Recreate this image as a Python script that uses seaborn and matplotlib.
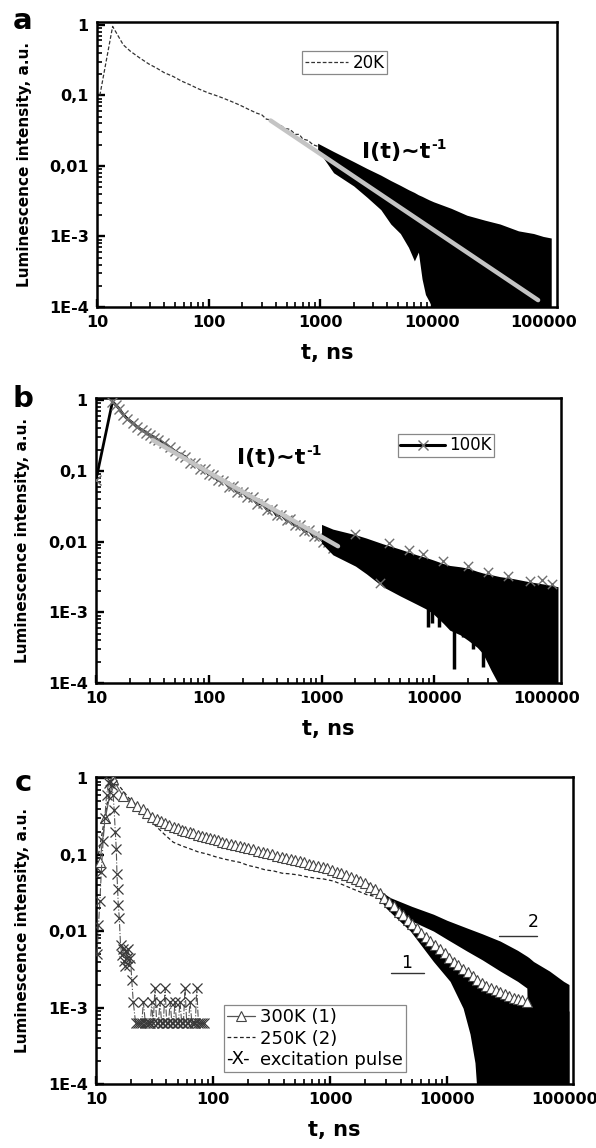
import numpy as np
import matplotlib
matplotlib.use("Agg")
import matplotlib.pyplot as plt
import matplotlib.ticker as mticker
from matplotlib.lines import Line2D
from matplotlib.text import Text
from matplotlib.legend_handler import HandlerBase
import seaborn as sns

# ------------------------------------------------------------------ data
x_ticks = [10, 100, 1000, 10000, 100000]
x_tick_labels = ["10", "100", "1000", "10000", "100000"]
y_ticks = [1e-4, 1e-3, 1e-2, 1e-1, 1]
y_tick_labels = ["1E-4", "1E-3", "0,01", "0,1", "1"]

# panel a : 20K
a_t = [10.6, 13.8, 17.2, 20.0, 24.3, 29.0, 34.3, 40.0, 48.3, 57.0, 68.4, 80.0, 100, 118, 136,
       160, 190, 230, 270, 300, 330, 360, 400, 440, 480, 536, 600, 650, 700, 780, 860, 950]
a_I = [0.10, 0.95, 0.52, 0.42, 0.337, 0.28, 0.243, 0.21, 0.185, 0.16, 0.141, 0.125, 0.108, 0.099, 0.091,
       0.082, 0.073, 0.063, 0.056, 0.053, 0.046, 0.045, 0.039, 0.038, 0.034, 0.033, 0.028, 0.028, 0.024,
       0.023, 0.020, 0.019]
a_band_t = [950, 1320, 2000, 2630, 3500, 4300, 5240, 6200, 7000, 7600, 8200, 8800, 9500, 10400,
            15000, 20700, 30000, 41000, 60000, 82000, 100000, 118000]
a_band_hi = [0.021, 0.016, 0.0115, 0.0092, 0.0074, 0.0062, 0.0053, 0.0046, 0.0042, 0.0039, 0.0037,
             0.0035, 0.0033, 0.0031, 0.0025, 0.0020, 0.0017, 0.0015, 0.0012, 0.0011, 0.0010, 0.00095]
a_band_lo = [0.017, 0.0080, 0.0052, 0.0036, 0.0024, 0.0015, 0.0011, 0.0007, 0.00045, 0.0006, 0.00025,
             0.00015, 0.00012, 0.00009, 0.00009, 0.00009, 0.00009, 0.00009, 0.00009, 0.00009, 0.00009, 0.00009]
a_fit_t = [360, 90000]
a_fit_I = [0.044, 1.25e-4]

# panel b : 100K
b_t = [10.0, 14.0, 15.0, 16.0, 17.5, 19.0, 21.4, 23.0, 25.4, 28.0, 30.0, 33.0, 35.7, 40, 45, 50, 56,
       62, 68, 75, 83, 92, 100, 110, 120, 135, 150, 165, 177, 200, 220, 245, 270, 300, 330, 365, 400,
       440, 490, 526, 580, 640, 700, 770, 850, 940, 1040, 1150, 1270, 1400]
b_I = [0.075, 0.95, 0.85, 0.76, 0.62, 0.54, 0.47, 0.42, 0.38, 0.345, 0.32, 0.295, 0.27, 0.245, 0.215,
       0.19, 0.17, 0.158, 0.131, 0.128, 0.107, 0.105, 0.089, 0.088, 0.074, 0.073, 0.060, 0.061, 0.051,
       0.050, 0.042, 0.042, 0.034, 0.035, 0.028, 0.029, 0.0235, 0.024, 0.020, 0.0207, 0.017, 0.0172,
       0.0142, 0.0145, 0.0118, 0.012, 0.0098, 0.0100, 0.0082, 0.0084]
b_band_t = [1000, 1260, 2000, 2500, 3500, 5000, 7000, 8600, 9800, 12000, 13700, 17000, 20000, 24000,
            27000, 32000, 38000, 50000, 70000, 95000, 125000]
b_band_hi = [0.0175, 0.0150, 0.0125, 0.0112, 0.0093, 0.0078, 0.0065, 0.0059, 0.0055, 0.0049, 0.0046,
             0.0044, 0.0042, 0.0038, 0.0036, 0.0034, 0.0032, 0.0030, 0.0027, 0.0025, 0.0023]
b_band_lo = [0.0095, 0.0065, 0.0045, 0.0035, 0.0023, 0.0017, 0.0013, 0.0011, 0.00095, 0.0007, 0.00056,
             0.00048, 0.00040, 0.00032, 0.00026, 0.00015, 0.00009, 0.00009, 0.00009, 0.00009, 0.00009]
b_spike_t = [8800, 9600, 11000, 15000, 18000, 22000, 27000]
b_spike_lo = [0.00062, 0.00070, 0.00062, 0.00016, 0.00045, 0.00030, 0.00017]
b_spike_hi = [0.0012, 0.0011, 0.0009, 0.0006, 0.0006, 0.0004, 0.0003]
b_out_t = [3300, 2000, 4000, 6000, 8000, 12000, 20000, 30000, 45000, 70000, 90000, 110000]
b_out_I = [0.0026, 0.013, 0.0095, 0.0075, 0.0066, 0.0053, 0.0045, 0.0037, 0.0033, 0.0028, 0.0029, 0.0025]
b_fit_t = [32, 1400]
b_fit_I = [0.27, 0.0086]

# panel c : 300K (1), 250K (2), excitation pulse
c_tri_t = [10.8, 12.0, 14, 17, 20, 22.5, 25, 27.5, 30, 33, 36, 39, 42, 46, 50, 54, 58, 63, 68, 74, 80,
           87, 94, 102, 110, 120, 130, 142, 155, 170, 185, 200, 220, 240, 265, 290, 320, 350, 385, 420,
           460, 500, 550, 600, 660, 720, 790, 870, 950, 1040, 1140, 1250, 1370, 1500, 1650, 1800, 2000,
           2200, 2400, 2650, 2900, 3200, 3500, 3850, 4200, 4600, 5000, 5500, 6000, 6600, 7200, 7900,
           8700, 9500, 10400, 11400, 12500, 13700, 15000, 16500, 18000, 19800, 21700, 23800, 26000,
           28500, 31000, 34000, 37000, 40500, 44000, 48000]
c_tri_I = [0.08, 0.30, 0.96, 0.58, 0.49, 0.43, 0.39, 0.35, 0.31, 0.295, 0.275, 0.26, 0.245, 0.232,
           0.222, 0.212, 0.204, 0.196, 0.189, 0.182, 0.176, 0.171, 0.166, 0.158, 0.153, 0.148, 0.143,
           0.138, 0.134, 0.129, 0.125, 0.121, 0.117, 0.113, 0.109, 0.105, 0.101, 0.097, 0.094, 0.091,
           0.088, 0.085, 0.082, 0.079, 0.076, 0.073, 0.071, 0.068, 0.066, 0.063, 0.060, 0.057, 0.054,
           0.051, 0.048, 0.045, 0.042, 0.038, 0.035, 0.031, 0.027, 0.024, 0.021, 0.018, 0.016, 0.014,
           0.0125, 0.011, 0.0095, 0.0083, 0.0074, 0.0066, 0.0058, 0.0051, 0.0045, 0.0040, 0.0036,
           0.0032, 0.0029, 0.0026, 0.0023, 0.0021, 0.0019, 0.0018, 0.0017, 0.0016, 0.0015, 0.0014,
           0.00135, 0.0013, 0.00125, 0.0012]
c_dash_t = [10.5, 13.5, 16, 19, 23.8, 28, 33, 39, 45.7, 54, 63.5, 75, 88, 104, 122, 145, 170, 200, 236,
            280, 330, 390, 453, 540, 640, 760, 876, 1070, 1300, 1600, 2050, 2500, 3000]
c_dash_I = [0.10, 0.95, 0.77, 0.55, 0.40, 0.30, 0.23, 0.18, 0.145, 0.13, 0.119, 0.108, 0.102, 0.094,
            0.088, 0.083, 0.079, 0.072, 0.068, 0.063, 0.061, 0.057, 0.056, 0.054, 0.051, 0.049, 0.048,
            0.045, 0.040, 0.035, 0.030, 0.028, 0.026]
c_exc_t = [10.2, 10.5, 10.8, 11.1, 11.5, 11.9, 12.3, 12.8, 13.2, 13.6, 14.0, 14.3, 14.6, 14.9, 15.1,
           15.3, 15.5, 15.8, 16.2, 16.6, 17.0, 17.3, 17.7, 18.1, 18.5, 18.9, 19.3, 19.7, 20.2,
           20.8, 21.8, 22.8, 23.8, 24.6, 25.4, 26.4, 27.4, 28.4, 29.2, 29.9, 30.8, 31.9, 33.0, 34.1,
           35.2, 36.4, 37.6, 38.9, 40.2, 41.6, 43.0, 44.5, 45.9, 47.3, 48.8, 50.5, 52.2, 54.0, 55.8,
           57.6, 59.6, 61.6, 63.6, 66.0, 68.5, 70.5, 72.6, 75.0, 77.5, 80.0, 83.0]
c_exc_I = [0.005, 0.012, 0.025, 0.06, 0.15, 0.30, 0.60, 0.85, 0.92, 0.82, 0.60, 0.38, 0.20, 0.12,
           0.055, 0.035, 0.022, 0.015, 0.0065, 0.0049, 0.0058, 0.0041, 0.0035, 0.0055, 0.0045, 0.0058,
           0.0036, 0.0045, 0.0023,
           0.0012, 0.00062, 0.00062, 0.00062, 0.00062, 0.0012, 0.00062, 0.00062, 0.00062, 0.00062,
           0.0012, 0.00062, 0.0018, 0.00062, 0.00062, 0.0012, 0.00062, 0.00062, 0.0018, 0.00062,
           0.00062, 0.0012, 0.00062, 0.00062, 0.0012, 0.00062, 0.00062, 0.0012, 0.00062, 0.00062,
           0.0018, 0.00062, 0.00062, 0.0012, 0.00062, 0.00062, 0.00062, 0.0018, 0.00062, 0.00062,
           0.00062, 0.00062]
c_b2_t = [2000, 2500, 3260, 5000, 7640, 10000, 14700, 20000, 28400, 40000, 48000, 50000, 54700, 75000,
          98900, 110000]
c_b2_hi = [0.045, 0.036, 0.0274, 0.021, 0.0166, 0.0138, 0.011, 0.0092, 0.0074, 0.0056, 0.0047, 0.0045,
           0.0040, 0.0030, 0.0022, 0.0020]
c_b2_lo = [0.040, 0.030, 0.0183, 0.0135, 0.010, 0.0078, 0.0055, 0.0042, 0.0030, 0.0022, 0.0018,
           0.00009, 0.00009, 0.00009, 0.00009, 0.00009]
c_b1_t = [2500, 3000, 4850, 7640, 10600, 13700, 15700, 17300, 17900, 25000, 50000, 110000]
c_b1_hi = [0.036, 0.026, 0.013, 0.0060, 0.0038, 0.0030, 0.0026, 0.0023, 0.0022, 0.0016, 0.0011, 0.0009]
c_b1_lo = [0.030, 0.020, 0.010, 0.0040, 0.0022, 0.00098, 0.00045, 0.00019, 0.00009, 0.00009, 0.00009,
           0.00009]

# ------------------------------------------------------------------ style
sns.set_theme(style="ticks")
plt.rcParams["font.family"] = ["DejaVu Sans"]
plt.rcParams["axes.linewidth"] = 1.8
for key in ["text.color", "axes.labelcolor", "xtick.color", "ytick.color", "axes.edgecolor"]:
    plt.rcParams[key] = "black"

fig = plt.figure(figsize=(5.96, 11.48), dpi=100)
ax_a = fig.add_axes([0.1628, 0.7326, 0.7718, 0.2483])
ax_b = fig.add_axes([0.1611, 0.4050, 0.7802, 0.2483])
ax_c = fig.add_axes([0.1611, 0.0557, 0.8003, 0.2674])


def style_axes(ax, xmax, ymax, xlab_y, ylab_x):
    ax.set_xscale("log")
    ax.set_yscale("log")
    ax.set_xlim(10, xmax)
    ax.set_ylim(1e-4, ymax)
    ax.set_xticks(x_ticks)
    ax.set_xticklabels(x_tick_labels)
    ax.set_yticks(y_ticks)
    ax.set_yticklabels(y_tick_labels)
    ax.xaxis.set_minor_locator(mticker.LogLocator(base=10, subs=[2, 3, 4, 5, 6, 7, 8, 9], numticks=30))
    ax.yaxis.set_minor_locator(mticker.LogLocator(base=10, subs=[2, 3, 4, 5, 6, 7, 8, 9], numticks=30))
    ax.xaxis.set_minor_formatter(mticker.NullFormatter())
    ax.yaxis.set_minor_formatter(mticker.NullFormatter())
    ax.tick_params(which="major", direction="in", length=6, width=1.7, labelsize=11.5, pad=6,
                   top=False, right=False, colors="black")
    ax.tick_params(which="minor", direction="in", length=3.5, width=1.2, top=False, right=False,
                   colors="black")
    for lbl in ax.get_xticklabels() + ax.get_yticklabels():
        lbl.set_fontweight("bold")
    for s in ax.spines.values():
        s.set_linewidth(1.8)
        s.set_color("black")
    ax.set_xlabel("t, ns", fontsize=15, fontweight="bold", color="black")
    ax.set_ylabel("Luminescence intensity, a.u.", fontsize=11, fontweight="bold", color="black")
    ax.xaxis.set_label_coords(0.5, xlab_y)
    ax.xaxis.label.set_va("top")
    ax.yaxis.set_label_coords(ylab_x, 0.5)
    ax.set_facecolor("white")


def power_label(ax, x, y):
    base = ax.text(x, y, "I(t)~t", fontsize=16, fontweight="bold", ha="left", va="center", zorder=6)
    ax.annotate("-1", xy=(1.0, 1.0), xycoords=base, xytext=(0.5, 3), textcoords="offset points",
                ha="left", va="top", fontsize=10, fontweight="bold", zorder=6)


style_axes(ax_a, 1.33e5, 1.10, -0.126, -0.141)
style_axes(ax_b, 1.33e5, 1.07, -0.126, -0.142)
style_axes(ax_c, 1.19e5, 1.03, -0.117, -0.138)

# ------------------------------------------------------------------ panel a
sns.lineplot(x=a_t, y=a_I, ax=ax_a, estimator=None, sort=False, color="#333333", lw=0.9,
             linestyle=(0, (3, 1.6)), zorder=2)
ax_a.fill_between(a_band_t, a_band_lo, a_band_hi, color="black", lw=0, zorder=3)
sns.lineplot(x=a_fit_t, y=a_fit_I, ax=ax_a, estimator=None, sort=False, color="#c4c4c4", lw=3.2,
             solid_capstyle="round", zorder=4)
power_label(ax_a, 2380, 0.0158)
h_a = [Line2D([], [], color="#333333", lw=0.9, linestyle=(0, (3, 1.6)))]
leg_a = ax_a.legend(h_a, ["20K"], loc="upper left", bbox_to_anchor=(0.4457, 0.898), borderaxespad=0,
                    fontsize=12, handlelength=2.6, handletextpad=0.3, borderpad=0.15,
                    fancybox=False, framealpha=1, edgecolor="#888888")
leg_a.get_frame().set_linewidth(0.9)

# ------------------------------------------------------------------ panel b
sns.lineplot(x=b_t, y=b_I, ax=ax_b, estimator=None, sort=False, color="black", lw=2.0,
             marker="x", markersize=7, markeredgecolor="#6e6e6e", markeredgewidth=1.0, zorder=3)
ax_b.fill_between(b_band_t, b_band_lo, b_band_hi, color="black", lw=0, zorder=3)
ax_b.vlines(b_spike_t, b_spike_lo, b_spike_hi, color="black", lw=2.5, zorder=3)
sns.scatterplot(x=b_out_t, y=b_out_I, ax=ax_b, marker="x", s=45, color="#6e6e6e", linewidth=1.0,
                zorder=4)
sns.lineplot(x=b_fit_t, y=b_fit_I, ax=ax_b, estimator=None, sort=False, color="#c4c4c4", lw=3.2,
             solid_capstyle="round", zorder=5)
power_label(ax_b, 178, 0.152)
h_b = [Line2D([], [], color="black", lw=2.2, marker="x", markersize=7, markeredgecolor="#6e6e6e",
              markeredgewidth=1.0)]
leg_b = ax_b.legend(h_b, ["100K"], loc="upper left", bbox_to_anchor=(0.649, 0.874), borderaxespad=0,
                    fontsize=12, handlelength=2.7, handletextpad=0.25, borderpad=0.15,
                    fancybox=False, framealpha=1, edgecolor="#888888")
leg_b.get_frame().set_linewidth(0.9)

# ------------------------------------------------------------------ panel c
sns.lineplot(x=c_dash_t, y=c_dash_I, ax=ax_c, estimator=None, sort=False, color="#222222", lw=0.9,
             linestyle=(0, (3, 2)), zorder=2)
ax_c.fill_between(c_b2_t, c_b2_lo, c_b2_hi, color="black", lw=0, zorder=3)
ax_c.fill_between(c_b1_t, c_b1_lo, c_b1_hi, color="black", lw=0, zorder=3)
sns.lineplot(x=c_tri_t, y=c_tri_I, ax=ax_c, estimator=None, sort=False, color="#555555", lw=0.8,
             marker="^", markersize=6.5, markerfacecolor="white", markeredgecolor="#444444",
             markeredgewidth=0.8, zorder=4)
sns.lineplot(x=c_exc_t, y=c_exc_I, ax=ax_c, estimator=None, sort=False, color="#555555", lw=0.8,
             linestyle="-.", marker="x", markersize=7, markeredgecolor="#3a3a3a",
             markeredgewidth=0.9, zorder=4)

# curve labels
ax_c.text(0.916, 0.528, "2", transform=ax_c.transAxes, fontsize=12.5, ha="center", va="center")
ax_c.plot([0.845, 0.925], [0.482, 0.482], transform=ax_c.transAxes, color="#333333", lw=1.0)
ax_c.text(0.652, 0.394, "1", transform=ax_c.transAxes, fontsize=12.5, ha="center", va="center")
ax_c.plot([0.618, 0.688], [0.362, 0.362], transform=ax_c.transAxes, color="#333333", lw=1.0)


class TextHandle(HandlerBase):
    def __init__(self, s):
        super().__init__()
        self.s = s

    def create_artists(self, legend, orig_handle, xdescent, ydescent, width, height, fontsize, trans):
        t = Text(-xdescent, -ydescent + height / 2.0, self.s, fontsize=fontsize, ha="left",
                 va="center", transform=trans, color="black")
        return [t]


h_tri = Line2D([], [], color="#555555", lw=0.9, marker="^", markersize=6.5, markerfacecolor="white",
               markeredgecolor="#444444", markeredgewidth=0.8)
h_dash = Line2D([], [], color="#222222", lw=0.9, linestyle=(0, (3, 2)))
h_exc = Line2D([], [], color="none")
leg_c = ax_c.legend([h_tri, h_dash, h_exc], ["300K (1)", "250K (2)", "excitation pulse"],
                    handler_map={h_exc: TextHandle("-X-")}, loc="lower left",
                    bbox_to_anchor=(0.268, 0.039), borderaxespad=0, fontsize=13,
                    handlelength=1.55, handletextpad=0.3, borderpad=0.15, labelspacing=0.2,
                    fancybox=False, framealpha=1, edgecolor="#888888")
leg_c.get_frame().set_linewidth(0.9)

# panel letters
for letter, yy in [("a", 21), ("b", 399), ("c", 783)]:
    fig.text(23 / 596, 1 - yy / 1148, letter, fontsize=21, fontweight="bold", ha="center", va="center")

fig.savefig("out.png", dpi=100)
